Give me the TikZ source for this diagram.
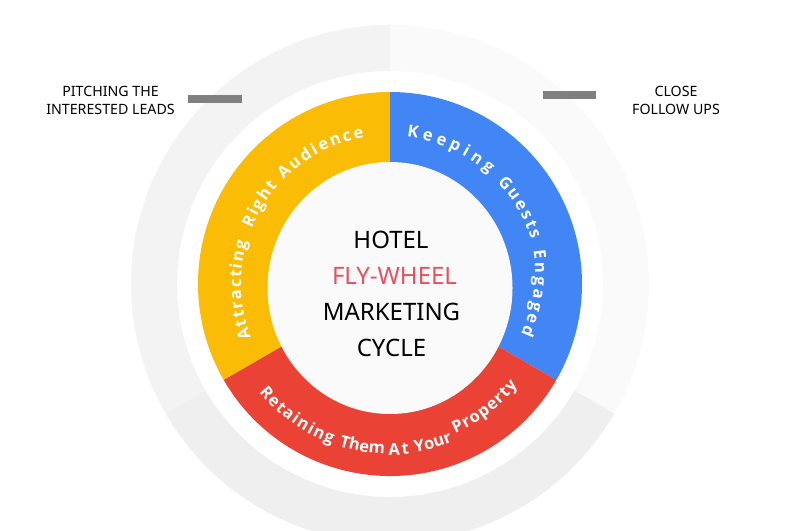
\documentclass[tikz,border=0pt]{standalone}
\usepackage{fontspec}
\setmainfont{Noto Sans}
\newfontfamily\labfam{Open Sans}
\usetikzlibrary{decorations.text}
\definecolor{ylw}{HTML}{FBBC05}
\definecolor{blu}{HTML}{4285F4}
\definecolor{rd}{HTML}{EA4335}
\definecolor{flyred}{HTML}{E8505F}
\definecolor{barg}{HTML}{808080}
\definecolor{ringa}{HTML}{F3F3F3}
\definecolor{ringb}{HTML}{FAFAFA}
\definecolor{ringc}{HTML}{EFEFEF}
\definecolor{hub}{HTML}{FAFAFA}
\tikzset{
  x=1pt,y=1pt,
  centertext/.style={font=\fontsize{24}{24}\selectfont,anchor=base,inner sep=0pt},
  sidetext/.style={font=\fontsize{14.2}{17.5}\selectfont,align=center,inner sep=0pt,text=black},
  barbox/.style={fill=barg,draw=none,minimum width=53.5pt,minimum height=8pt,inner sep=0pt},
  curved/.style={decorate,decoration={text along path,text={#1},text color=white,text align={fit to path}}}
}
\newcommand{\sect}[5]{% colour, start, end, router, rinner
  \fill[#1] (#2:#4) arc[start angle=#2,end angle=#3,radius=#4 pt] -- (#3:#5) arc[start angle=#3,end angle=#2,radius=#5 pt] -- cycle;}
\newcommand{\lab}{\labfam\bfseries\fontsize{16.5}{16.5}\selectfont}
% word, start angle, end angle, radius
\newcommand{\arcword}[4]{{\lab\path[curved={|\lab|#1}] (#2:#4) arc[start angle=#2,end angle=#3,radius=#4 pt];}}
\begin{document}
\begin{tikzpicture}
\useasboundingbox (0,0) rectangle (800,530);
\fill[white] (0,0) rectangle (800,530);
\begin{scope}
\clip (0,0) rectangle (800,530);
\begin{scope}[shift={(390,246)}]
\sect{ringa}{90}{210}{259}{213}
\sect{ringb}{90}{-30}{259}{213}
\sect{ringc}{210}{330}{259}{213}
\sect{ylw}{90}{210}{192}{100}
\sect{blu}{90}{-30}{192}{100}
\sect{rd}{210}{330}{192}{100}
\fill[hub] (0,-4) ellipse[x radius=122.5pt,y radius=126pt];
\arcword{Attracting}{201}{163.5}{149}
\arcword{Right}{158}{139}{149}
\arcword{Audience}{135.5}{100}{149}
\arcword{Keeping}{83.5}{48}{148}
\arcword{Guests}{43.5}{17.5}{148}
\begin{scope}[shift={(0,12)}]
\arcword{Engaged}{8.4}{-25.4}{145}
\end{scope}
\arcword{Retaining}{219.5}{250}{170}
\arcword{Them}{252.5}{267}{170}
\arcword{At}{269.5}{276.5}{171}
\arcword{Your}{278.5}{291.5}{170}
\arcword{Property}{293.5}{321.5}{163}
\end{scope}
\end{scope}
\node[centertext,text=black] (hotel) at (391,530-249) {HOTEL};
\node[centertext,text=flyred] (fly) at (394.5,530-285) {FLY-WHEEL};
\node[centertext,text=black] (mkt) at (391.5,530-321) {MARKETING};
\node[centertext,text=black] (cycle) at (391.5,530-357) {CYCLE};
\node[sidetext] (pitch) at (110.5,530-100.5) {PITCHING THE\\INTERESTED LEADS};
\node[sidetext] (close) at (676,530-100.5) {CLOSE\\FOLLOW UPS};
\node[barbox] (barl) at (215,530-99) {};
\node[barbox] (barr) at (569.5,530-95) {};
\end{tikzpicture}
\end{document}
